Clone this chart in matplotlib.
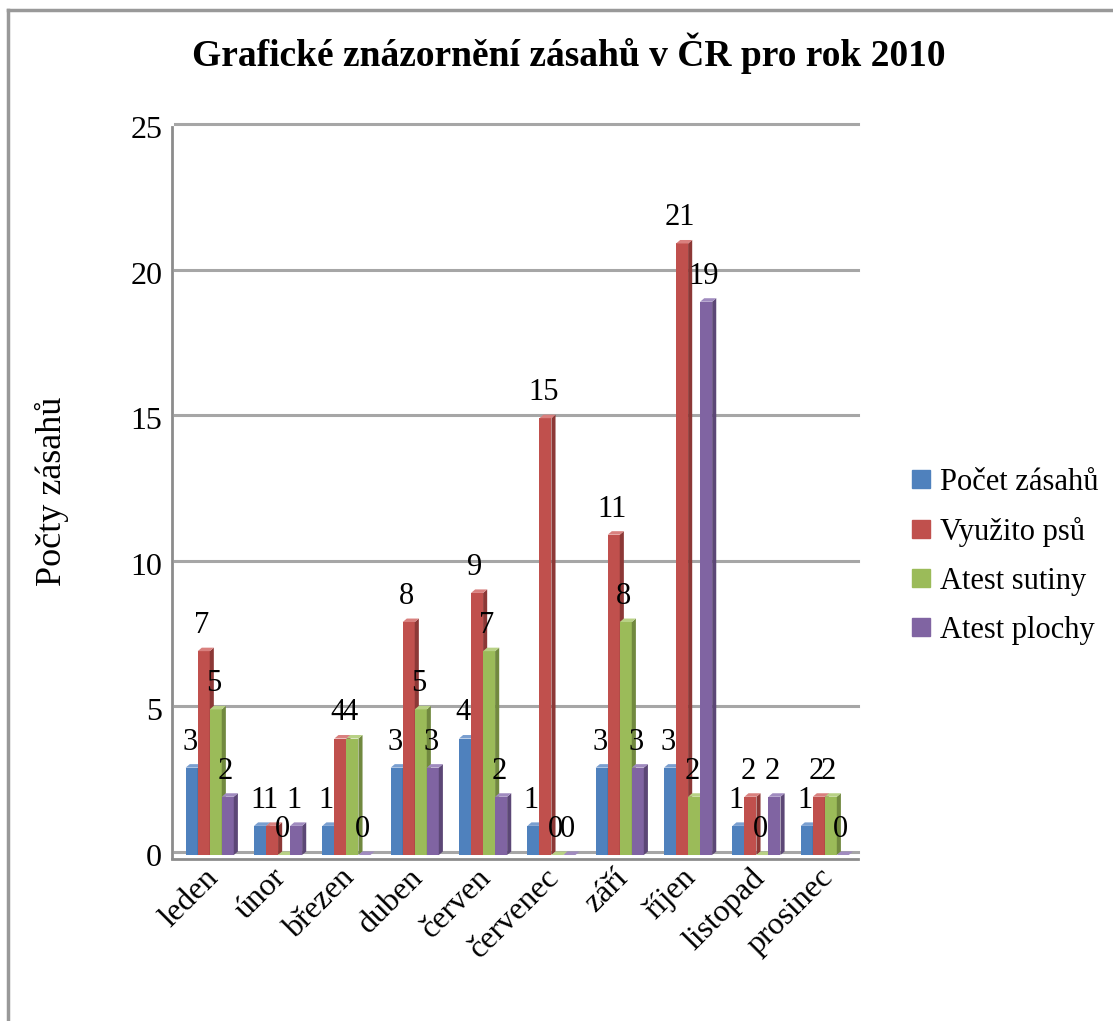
import matplotlib
matplotlib.use("Agg")
import matplotlib.pyplot as plt
import numpy as np
from matplotlib.patches import Polygon, Rectangle
from matplotlib.lines import Line2D

months = ["leden", "únor", "březen", "duben", "červen", "červenec",
          "září", "říjen", "listopad", "prosinec"]
series = ["Počet zásahů", "Využito psů", "Atest sutiny", "Atest plochy"]
pocet = [3, 1, 1, 3, 4, 1, 3, 3, 1, 1]
psi = [7, 1, 4, 8, 9, 15, 11, 21, 2, 2]
sutiny = [5, 0, 4, 5, 7, 0, 8, 2, 0, 2]
plochy = [2, 1, 0, 3, 2, 0, 3, 19, 2, 0]

FRONT = ["#4F81BD", "#C0504D", "#9BBB59", "#8064A2"]
SIDE = ["#385D8A", "#8C3836", "#71893F", "#5C4776"]
TOP = ["#7A9FD0", "#D9807E", "#B8D185", "#A08BBF"]

plt.rcParams["font.family"] = ["Liberation Serif", "DejaVu Serif"]

fig = plt.figure(figsize=(11.13, 10.21), dpi=100)
ax = fig.add_axes([0.157, 0.1626, 0.614, 0.713])

w = 0.176       # front width
dx = 0.06       # depth in x
dy = 0.12       # depth in y
n = len(months)
ax.set_xlim(0, n)
ax.set_ylim(0, 25)

# grid (slightly 3D)
for g in range(0, 26, 5):
    ax.plot([0.0, n], [g + 0.1, g + 0.1], color="#A6A6A6", lw=2.2, zorder=0,
            clip_on=False)
ax.plot([-0.04, -0.04], [-0.1, 25], color="#8C8C8C", lw=2, clip_on=False, zorder=0)
ax.plot([-0.04, n], [-0.15, -0.15], color="#8C8C8C", lw=2, clip_on=False, zorder=0)

data = [pocet, psi, sutiny, plochy]
for si, vals in enumerate(data):
    for i, v in enumerate(vals):
        x0 = i + 0.16 + si * w
        if v > 0:
            ax.add_patch(Rectangle((x0, 0), w, v, facecolor=FRONT[si],
                                   edgecolor="none", zorder=3 + si))
        ax.add_patch(Polygon([(x0 + w, 0), (x0 + w + dx, dy), (x0 + w + dx, v + dy),
                              (x0 + w, v)], closed=True, facecolor=SIDE[si],
                             edgecolor="none", zorder=3 + si))
        ax.add_patch(Polygon([(x0, v), (x0 + dx, v + dy), (x0 + w + dx, v + dy),
                              (x0 + w, v)], closed=True, facecolor=TOP[si],
                             edgecolor="none", zorder=3 + si))
        ax.text(x0 + w / 2 - 0.03, v + 0.62, str(v), ha="center", va="baseline",
                fontsize=22, zorder=10)

ax.set_yticks(range(0, 26, 5))
ax.set_yticklabels([str(t) for t in range(0, 26, 5)], fontsize=23)
ax.tick_params(axis="y", length=0, pad=9)
ax.set_xticks(np.arange(n) + 0.42)
ax.set_xticklabels(months, fontsize=23, rotation=45, ha="right", va="top",
                   rotation_mode="anchor")
ax.tick_params(axis="x", length=0, pad=6)
for s in ax.spines.values():
    s.set_visible(False)
ax.set_ylabel("Počty zásahů", fontsize=26)
ax.yaxis.set_label_coords(-0.155, 0.5)

fig.suptitle("Grafické znázornění zásahů v ČR pro rok 2010", fontsize=27,
             fontweight="bold", x=0.511, y=0.968)

handles = [Line2D([], [], marker="s", color=c, ls="none", markersize=13)
           for c in FRONT]
fig.legend(handles, series, loc="center left", bbox_to_anchor=(0.788, 0.455),
           frameon=False, fontsize=22, handletextpad=0.05, labelspacing=0.65,
           handlelength=1.1)

# outer frame
fig.add_artist(Line2D([0.0072, 0.0072], [0.0, 0.990], color="#999999", lw=2.5,
                      transform=fig.transFigure))
fig.add_artist(Line2D([0.0072, 1.0], [0.990, 0.990], color="#999999", lw=2.5,
                      transform=fig.transFigure))

fig.savefig("out.png", dpi=100)
